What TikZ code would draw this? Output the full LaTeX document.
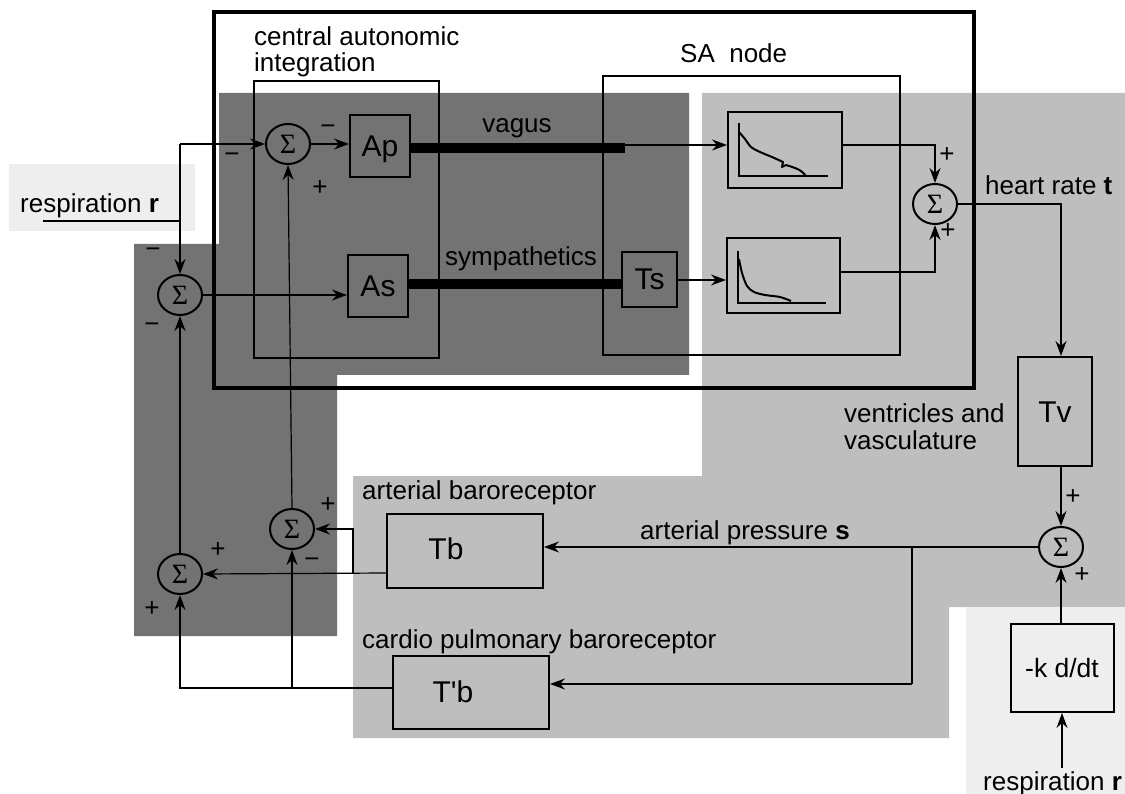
\documentclass[tikz,border=0pt]{standalone}
\usepackage{fontspec}
\setmainfont{Liberation Sans}
\newfontfamily\sigfont{Liberation Serif}
\usetikzlibrary{shapes.geometric,arrows.meta}
\definecolor{darkbg}{HTML}{737373}
\definecolor{midbg}{HTML}{BEBEBE}
\definecolor{lightbg}{HTML}{EEEEEE}
\tikzset{
  arr/.style={-{Stealth[length=15pt,width=11pt,inset=5pt]}, line width=1.2pt},
  wire/.style={line width=1.2pt},
  bar/.style={line width=9.5pt},
  blk/.style={draw, line width=2pt, inner sep=0pt, font=\fontsize{30}{30}\selectfont, text height=21pt, text depth=0pt},
  plotbox/.style={draw, line width=2pt, inner sep=0pt},
  container/.style={draw, line width=2pt, inner sep=0pt},
  sig/.style={draw, ellipse, line width=2pt, minimum width=44pt, minimum height=40pt, inner sep=0pt},
  sigtext/.style={inner sep=0pt, font=\sigfont\fontsize{28}{28}\selectfont},
  pm/.style={font=\fontsize{26}{26}\selectfont, inner sep=0pt},
  lbl/.style={anchor=base west, inner sep=0pt, align=left},
  blktext/.style={inner sep=0pt, font=\fontsize{30}{30}\selectfont, text height=21pt, text depth=0pt}
}
\begin{document}
\begin{tikzpicture}[x=1pt, y=-1pt, font=\fontsize{26}{26.5}\selectfont]
\useasboundingbox (0,0) rectangle (1125,794);
% backgrounds
\fill[lightbg] (9,164) rectangle (195,231);
\fill[darkbg] (134,244) -- (219,244) -- (219,93) -- (689,93) -- (689,375) -- (337,375) -- (337,636) -- (134,636) -- cycle;
\fill[midbg] (702,93) -- (1125,93) -- (1125,607) -- (949,607) -- (949,738) -- (353,738) -- (353,476) -- (702,476) -- cycle;
\fill[lightbg] (966,607) rectangle (1125,794);

% containers
\node[container, line width=4pt, minimum width=760pt, minimum height=376pt] (outer) at (594,200) {};
\node[container, minimum width=185pt, minimum height=277pt] (cai) at (346.5,219.5) {};
\node[container, minimum width=297pt, minimum height=279pt] (sa) at (751.5,215.5) {};

% blocks
\node[blk, minimum width=60pt, minimum height=62pt] (Ap) at (380,146) {Ap};
\node[blk, minimum width=60pt, minimum height=62pt] (As) at (378,286) {As};
\node[blk, minimum width=55pt, minimum height=55pt] (Ts) at (649.5,279.5) {Ts};
\node[plotbox, minimum width=114pt, minimum height=76pt] (P1) at (785,150) {};
\node[plotbox, minimum width=113pt, minimum height=75pt] (P2) at (783.5,275.5) {};
\node[blk, minimum width=74pt, minimum height=109pt] (Tv) at (1055,411.5) {Tv};
\node[blk, minimum width=156pt, minimum height=74pt] (Tb) at (465,551) {};
\node[blktext] (Tbt) at (446,549) {Tb};
\node[blk, minimum width=156pt, minimum height=73pt] (Tpb) at (471,692.5) {};
\node[blktext] (Tpbt) at (453,692) {T\textquotesingle b};
\node[blk, minimum width=103pt, minimum height=88pt, font=\fontsize{26.5}{26.5}\selectfont, text height=19pt] (kdt) at (1062,668) {-k d/dt};

% summing junctions
\foreach \n/\p in {TS/{(288,144)}, LS/{(180,295)}, MS/{(292,529)}, BS/{(180,574)}, RS/{(935,204)}, VS/{(1061,547)}} {
  \node[sig] (\n) at \p {};
  \node[sigtext] (\n t) at (\n.center) {Σ};
}

% plots
\draw[wire] (739,123) -- (739,176) -- (828,176);
\draw[line width=2pt, line join=round] plot[smooth] coordinates {(739,132) (745,139) (751,147) (760,152) (772,157) (783,162)} -- (782,167) -- (786,165);
\draw[line width=2pt] plot[smooth] coordinates {(786,165) (795,168) (801,171) (806,176)};
\draw[wire] (738,251) -- (738,303) -- (826,303);
\draw[line width=2pt] plot[smooth] coordinates {(739,259) (742,273) (747,286) (754,292) (765,295) (780,297) (791,301)};

% coordinates
\coordinate (rs0) at (43,221);
\coordinate (rs1) at (180,221);
\coordinate (jtop) at (180,144);
\coordinate (vg) at (625,148);
\coordinate (vgt) at (625,145);
\coordinate (p1o) at (842,145);
\coordinate (p2o) at (840,272);
\coordinate (br) at (912,547);
\coordinate (br2) at (912,684);
\coordinate (tbo) at (387,573);
\coordinate (j353) at (353,573);
\coordinate (tpbo) at (393,688);
\coordinate (j292) at (292,688);
\coordinate (rb) at (1062,768);

% connectors
\draw[wire] (rs0) -- (rs1);
\draw[arr] (jtop) -- (LS.north);
\draw[arr] (jtop) -- (TS.west);
\draw[arr] (TS.east) -- (TS.east -| Ap.west);
\draw[arr] (LS.east) -- (LS.east -| As.west);
\draw[bar] (Ap.east |- vg) -- (vg);
\draw[arr] (vgt) -- (vgt -| P1.west);
\draw[bar] (As.east |- 0,284) -- (Ts.west |- 0,284);
\draw[arr] (Ts.east |- 0,280) -- (P2.west |- 0,280);
\draw[arr] (p1o) -| (RS.north);
\draw[arr] (p2o) -| (RS.south);
\draw[arr] (RS.east) -| (Tv.north -| VS.center);
\draw[arr] (Tv.south -| VS.center) -- (VS.north);
\draw[arr] (VS.west) -- (VS.west -| Tb.east);
\draw[wire] (br) -- (br2);
\draw[arr] (br2) -- (br2 -| Tpb.east);
\draw[arr] (tbo) -- (BS.east);
\draw[arr] (j353) |- (MS.east);
\draw[arr] (tpbo) -| (BS.south);
\draw[arr] (j292) -- (MS.south);
\draw[arr] (BS.north) -- (LS.south);
\draw[arr] (MS.north) -- (TS.south);
\draw[arr] (rb) -- (kdt.south -| rb);
\draw[arr] (kdt.north -| VS.center) -- (VS.south);

% signs
\node[pm] (s1) at (328,130) {−};
\node[pm] (s2) at (232,158) {−};
\node[pm] (s3) at (320,188) {+};
\node[pm] (s4) at (153,253) {−};
\node[pm] (s5) at (152,328) {−};
\node[pm] (s6) at (947,155) {+};
\node[pm] (s7) at (948,231) {+};
\node[pm] (s8) at (1073,497) {+};
\node[pm] (s9) at (1082,575) {+};
\node[pm] (s10) at (328,505) {+};
\node[pm] (s11) at (312,563) {−};
\node[pm] (s12) at (218,550) {+};
\node[pm] (s13) at (152,609) {+};

% labels
\node[lbl] (l1) at (254,72) {central autonomic\\integration};
\node[lbl] (l2) at (680,63) {SA\ \ node};
\node[inner sep=0pt, anchor=base] (l3) at (517,133) {vagus};
\node[lbl] (l4) at (445,266) {sympathetics};
\node[lbl] (l5) at (985,195) {heart rate \textbf{t}};
\node[lbl] (l6) at (844,449) {ventricles and\\vasculature};
\node[lbl] (l7) at (362,499) {arterial baroreceptor};
\node[lbl] (l8) at (640,539) {arterial pressure \textbf{s}};
\node[lbl] (l9) at (362,648) {cardio pulmonary baroreceptor};
\node[lbl] (l10) at (20,213) {respiration \textbf{r}};
\node[lbl] (l11) at (983,790) {respiration \textbf{r}};
\end{tikzpicture}
\end{document}
